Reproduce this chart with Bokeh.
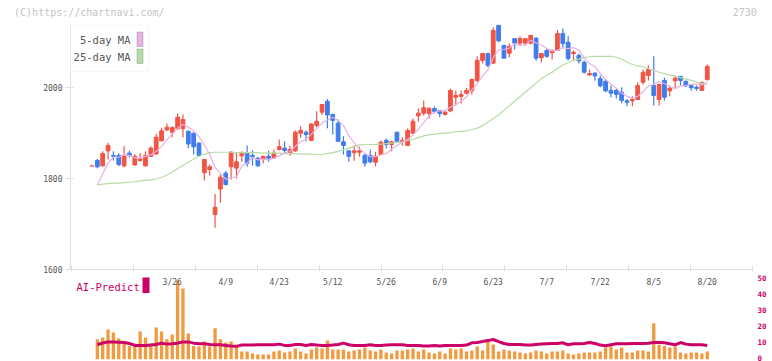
import numpy as np
from bokeh.plotting import figure
from bokeh.layouts import column
from bokeh.models import Range1d, FixedTicker, ColumnDataSource, Label, BoxAnnotation, LinearAxis
from bokeh.core.properties import value
from bokeh.embed import file_html
from bokeh.resources import INLINE

# ---------------- data ----------------
date_labels = ["3/26", "4/9", "4/23", "5/12", "5/26", "6/9", "6/23", "7/7", "7/22", "8/5", "8/20"]
date_label_index = [15, 25, 35, 45, 55, 65, 75, 85, 95, 105, 115]
header_texts = ["(C)https://chartnavi.com/", "2730"]

open_ = [1828, 1840, 1828, 1861, 1851, 1851, 1828, 1856, 1830, 1840,
         1828, 1849, 1854, 1883, 1907, 1902, 1910, 1910, 1904, 1900,
         1878, 1813, 1820, 1721, 1777, 1812, 1826, 1823, 1850, 1856,
         1851, 1845, 1843, 1849, 1845, 1864, 1867, 1856, 1861, 1900,
         1902, 1884, 1917, 1946, 1970, 1941, 1922, 1881, 1861, 1857,
         1858, 1851, 1851, 1836, 1853, 1884, 1875, 1902, 1881, 1873,
         1900, 1938, 1944, 1943, 1954, 1950, 1941, 1949, 1979, 1981,
         1988, 1993, 2016, 2060, 2075, 2054, 2137, 2093, 2076, 2108,
         2098, 2098, 2098, 2109, 2066, 2082, 2077, 2082, 2119, 2100,
         2075, 2071, 2056, 2028, 2032, 2020, 2014, 1994, 1994, 1990,
         1971, 1971, 1974, 2012, 2027, 2005, 1974, 2016, 1993, 2015,
         2025, 2014, 2005, 2001, 1994, 2018]
high = [1828, 1843, 1860, 1879, 1860, 1856, 1871, 1861, 1854, 1856,
        1860, 1871, 1898, 1912, 1921, 1915, 1943, 1941, 1906, 1901,
        1880, 1843, 1831, 1766, 1809, 1817, 1860, 1858, 1860, 1873,
        1862, 1847, 1850, 1861, 1864, 1886, 1882, 1872, 1906, 1915,
        1906, 1922, 1948, 1963, 1975, 1943, 1930, 1893, 1861, 1873,
        1870, 1855, 1864, 1859, 1884, 1888, 1883, 1903, 1891, 1910,
        1932, 1954, 1972, 1956, 1959, 1951, 1950, 1998, 1993, 1994,
        2000, 2020, 2069, 2077, 2077, 2133, 2139, 2093, 2097, 2108,
        2113, 2108, 2115, 2111, 2075, 2086, 2084, 2127, 2130, 2113,
        2082, 2075, 2060, 2040, 2034, 2027, 2018, 2005, 1998, 2001,
        1975, 1981, 2012, 2040, 2049, 2069, 2009, 2022, 2005, 2027,
        2025, 2016, 2005, 2005, 2013, 2051]
low = [1828, 1823, 1827, 1842, 1840, 1827, 1825, 1846, 1828, 1837,
       1826, 1847, 1853, 1883, 1905, 1891, 1908, 1891, 1867, 1853,
       1848, 1796, 1807, 1692, 1747, 1785, 1798, 1800, 1837, 1826,
       1829, 1826, 1833, 1837, 1843, 1862, 1856, 1850, 1859, 1890,
       1882, 1882, 1913, 1940, 1911, 1897, 1882, 1853, 1837, 1839,
       1848, 1826, 1834, 1827, 1853, 1866, 1860, 1882, 1872, 1872,
       1898, 1925, 1939, 1932, 1944, 1935, 1939, 1946, 1961, 1965,
       1985, 1985, 2012, 2053, 2045, 2053, 2100, 2065, 2067, 2084,
       2093, 2093, 2095, 2059, 2056, 2066, 2062, 2081, 2088, 2060,
       2060, 2053, 2031, 2027, 2015, 2001, 1990, 1979, 1976, 1966,
       1959, 1959, 1974, 2007, 2016, 1961, 1961, 1972, 1981, 1998,
       2004, 2001, 1993, 1993, 1993, 2015]
close = [1828, 1826, 1855, 1873, 1849, 1831, 1851, 1851, 1849, 1843,
         1851, 1867, 1891, 1905, 1913, 1912, 1935, 1930, 1876, 1870,
         1851, 1842, 1826, 1737, 1803, 1787, 1858, 1837, 1856, 1834,
         1848, 1828, 1849, 1845, 1856, 1870, 1862, 1864, 1902, 1906,
         1897, 1920, 1926, 1963, 1940, 1928, 1882, 1873, 1849, 1861,
         1861, 1834, 1837, 1849, 1880, 1875, 1881, 1882, 1884, 1906,
         1926, 1944, 1956, 1955, 1948, 1943, 1946, 1994, 1983, 1985,
         1994, 2018, 2060, 2075, 2049, 2126, 2103, 2065, 2091, 2098,
         2108, 2108, 2115, 2065, 2075, 2069, 2082, 2119, 2097, 2064,
         2078, 2059, 2034, 2031, 2026, 2004, 1993, 1988, 1985, 1972,
         1968, 1974, 2005, 2034, 2040, 1983, 2007, 1979, 1999, 2021,
         2016, 2004, 2000, 1998, 2012, 2047]
ma5 = [None, 1786, 1810, 1834, 1847, 1847, 1852, 1851, 1846, 1845,
       1849, 1852, 1860, 1871, 1885, 1898, 1911, 1919, 1913, 1905,
       1892, 1874, 1853, 1825, 1812, 1799, 1802, 1804, 1828, 1834,
       1847, 1841, 1843, 1841, 1845, 1850, 1856, 1859, 1871, 1881,
       1886, 1898, 1910, 1922, 1929, 1935, 1928, 1917, 1894, 1879,
       1865, 1856, 1848, 1848, 1852, 1855, 1864, 1873, 1880, 1886,
       1896, 1908, 1923, 1937, 1946, 1949, 1950, 1957, 1963, 1970,
       1980, 1995, 2008, 2026, 2039, 2066, 2083, 2084, 2087, 2097,
       2093, 2094, 2104, 2099, 2094, 2086, 2081, 2082, 2088, 2086,
       2088, 2083, 2066, 2053, 2046, 2031, 2018, 2008, 1999, 1988,
       1981, 1977, 1981, 1991, 2004, 2007, 2014, 2009, 2002, 1998,
       2004, 2004, 2008, 2008, 2006, 2012]
ma25 = [None, 1786, 1788, 1789, 1790, 1790, 1791, 1792, 1793, 1795,
        1796, 1797, 1799, 1803, 1808, 1814, 1822, 1829, 1836, 1843,
        1849, 1854, 1857, 1858, 1858, 1858, 1858, 1857, 1857, 1857,
        1857, 1857, 1856, 1856, 1856, 1856, 1855, 1855, 1855, 1854,
        1854, 1854, 1853, 1853, 1855, 1857, 1860, 1863, 1867, 1871,
        1874, 1875, 1875, 1875, 1876, 1877, 1878, 1879, 1881, 1884,
        1886, 1890, 1894, 1896, 1898, 1899, 1900, 1901, 1903, 1904,
        1905, 1908, 1911, 1916, 1924, 1932, 1940, 1950, 1960, 1970,
        1980, 1990, 2000, 2010, 2020, 2027, 2034, 2042, 2050, 2055,
        2060, 2063, 2066, 2068, 2069, 2069, 2069, 2069, 2067, 2063,
        2056, 2051, 2048, 2046, 2042, 2038, 2034, 2031, 2028, 2025,
        2022, 2019, 2016, 2012, 2010, 2007]
volume = [None, 12.7, 13.75, 18.75, 16.9, 13.1, 11.25, 8.5, 10.0, 17.5,
          13.75, 10.0, 20.0, 17.5, 12.7, 15.6, 49.4, 44.4, 16.25, 8.5,
          8.1, 11.25, 8.1, 19.6, 12.7, 10.6, 11.25, 8.5, 5.0, 5.0,
          3.75, 3.1, 3.1, 3.1, 5.0, 5.6, 4.4, 5.0, 6.9, 5.0,
          3.75, 6.25, 7.5, 6.9, 11.9, 6.25, 6.25, 6.25, 5.0, 5.6,
          6.25, 7.5, 5.6, 5.0, 6.25, 4.4, 3.75, 5.6, 5.6, 6.25,
          6.9, 5.0, 6.25, 4.4, 3.75, 5.0, 3.75, 6.9, 6.25, 6.9,
          5.0, 5.6, 8.1, 5.6, 11.25, 9.4, 5.0, 6.25, 5.6, 5.0,
          4.4, 3.75, 4.4, 5.6, 5.0, 3.75, 5.0, 5.0, 5.6, 3.75,
          3.1, 3.75, 4.4, 4.4, 4.4, 5.0, 7.5, 8.1, 6.25, 7.5,
          4.4, 4.4, 5.6, 5.6, 5.0, 22.7, 9.2, 8.5, 7.5, 8.1,
          4.4, 3.75, 4.4, 4.4, 3.75, 5.0]
ai_predict = [None, 8.4, 9.5, 10.2, 10.2, 10.0, 9.8, 9.2, 8.0, 8.0,
              8.0, 8.2, 8.6, 9.4, 8.8, 9.0, 9.4, 10.2, 10.2, 9.4,
              9.0, 9.0, 8.6, 8.4, 8.4, 8.0, 7.6, 7.4, 8.2, 8.2,
              8.2, 8.4, 8.4, 8.4, 8.4, 8.8, 8.0, 8.0, 8.6, 8.6,
              8.0, 8.6, 8.2, 7.9, 7.9, 8.2, 8.6, 9.4, 8.4, 8.0,
              8.0, 8.0, 8.4, 8.0, 8.0, 8.2, 8.4, 8.4, 8.4, 8.0,
              8.0, 8.0, 7.6, 7.6, 8.0, 7.6, 8.0, 8.0, 8.0, 8.0,
              8.2, 9.6, 9.8, 10.4, 11.0, 11.7, 10.4, 9.2, 8.6, 8.6,
              8.6, 8.2, 8.2, 8.6, 8.8, 9.0, 9.2, 9.2, 9.6, 8.4,
              9.0, 9.0, 9.2, 9.8, 9.2, 8.2, 7.8, 8.4, 9.0, 9.0,
              9.0, 9.2, 9.2, 9.2, 9.4, 9.8, 9.8, 9.6, 9.0, 8.4,
              9.8, 8.8, 8.4, 8.4, 8.4, 8.0]
ai_ticks = [0, 10, 20, 30, 40, 50]
price_ticks = [1600, 1800, 2000]

# ---------------- geometry (page pixels; the page origin is the canvas origin) ----------------
X0, DX = 91.5, 5.35          # page x of the first candle and candle pitch
FL, FR, W = 70, 752, 772     # plot frame left / right, canvas width
A_TOP, A_BOT = 24, 269       # price frame top / bottom
P_LO, P_HI = 1600, 2139      # price range
A_GAP = 5                    # space under the price frame
B_TOP, B_BOT = 275, 359      # lower frame
V_ZERO, V_PX = 357.7, 1.6    # lower panel: page y of 0 on the AI axis, px per unit


def px2x(px):
    return (px - X0) / DX


def py2p(py):
    return P_HI - (py - A_TOP) * (P_HI - P_LO) / (A_BOT - A_TOP)


def py2v(py):
    return (V_ZERO - py) / V_PX


MONO = "DejaVu Sans Mono"
RED, BLUE = "#f25444", "#3f7cec"
PINK, GREEN = "#e6b2e6", "#b6dca4"
CRIMSON, ORANGE = "#cc0066", "#f29a3f"
AXIS_GREY, TEXT_GREY = "#e0e0e0", "#555555"

n = len(close)
idx = list(range(n))
x_range = Range1d(px2x(FL), px2x(FR))

# 12 equally spaced division marks along the lower edge of the price frame
div_ticks = list(np.linspace(px2x(FL + 1), px2x(FR), 12))

# ---------------- price figure ----------------
pA = figure(frame_width=FR - FL, frame_height=A_BOT - A_TOP,
            x_range=x_range, y_range=Range1d(P_LO, P_HI),
            output_backend="svg", toolbar_location=None,
            min_border_left=FL, min_border_right=W - FR,
            min_border_top=A_TOP, min_border_bottom=A_GAP)
pA.grid.visible = False
pA.outline_line_color = None
pA.background_fill_color = "white"

up = [c >= o for o, c in zip(open_, close)]
src = ColumnDataSource(dict(
    x=idx, h=high, l=low,
    top=[max(o, c) for o, c in zip(open_, close)],
    bottom=[min(o, c) for o, c in zip(open_, close)],
    color=[RED if u else BLUE for u in up]))
pA.segment(x0="x", y0="l", x1="x", y1="h", source=src, line_color="color", line_width=1.2)
pA.vbar(x="x", width=0.7, top="top", bottom="bottom", source=src,
        fill_color="color", line_color="color", line_width=1)
pA.line(idx[1:], ma25[1:], line_color=GREEN, line_width=1.2)
pA.line(idx[1:], ma5[1:], line_color=PINK, line_width=1.2)

ya = pA.yaxis[0]
ya.ticker = FixedTicker(ticks=price_ticks)
ya.bounds = (P_LO, P_HI)
ya.axis_line_color = AXIS_GREY
ya.major_tick_line_color = AXIS_GREY
ya.major_tick_in = 3
ya.major_tick_out = 5
ya.minor_tick_line_color = None
ya.major_label_standoff = 3
ya.major_label_text_font = MONO
ya.major_label_text_font_size = "8px"
ya.major_label_text_color = TEXT_GREY

xa = pA.xaxis[0]
xa.ticker = FixedTicker(ticks=[], minor_ticks=div_ticks)
xa.axis_line_color = AXIS_GREY
xa.minor_tick_line_color = AXIS_GREY
xa.minor_tick_in = 4
xa.minor_tick_out = 2
xa.major_tick_line_color = None
xa.major_tick_out = 0
xa.major_label_standoff = 0
xa.major_label_text_font_size = "0px"

# header texts as labels of an invisible top axis (centred over their positions)
hdr_pos = [-0.5, 122]
overrides = {}
for pos, txt in zip(hdr_pos, header_texts):
    overrides[pos] = txt
    overrides[str(pos)] = txt
top_axis = LinearAxis(ticker=FixedTicker(ticks=hdr_pos), major_label_overrides=overrides,
                      axis_line_color=None, major_tick_line_color=None,
                      minor_tick_line_color=None, major_tick_in=0, major_tick_out=0,
                      major_label_standoff=7, major_label_text_font=MONO,
                      major_label_text_font_size="10px", major_label_text_color="#c4c4c4")
pA.add_layout(top_axis, "above")

# legend box (labels left, swatches right as in the original)
pA.add_layout(BoxAnnotation(left=px2x(70), right=px2x(148), top=py2p(24), bottom=py2p(71),
                            fill_color="white", fill_alpha=1, line_color=AXIS_GREY, line_width=1.5))
pA.add_layout(BoxAnnotation(left=px2x(136.5), right=px2x(142.5), top=py2p(31.5), bottom=py2p(46),
                            fill_color=PINK, fill_alpha=1, line_color="#666666", line_width=1))
pA.add_layout(BoxAnnotation(left=px2x(136.5), right=px2x(142.5), top=py2p(48.5), bottom=py2p(63),
                            fill_color=GREEN, fill_alpha=1, line_color="#666666", line_width=1))
for txt, yy in (("5-day MA", 39.5), ("25-day MA", 56.5)):
    pA.add_layout(Label(x=px2x(130), y=py2p(yy), text=txt, text_align="right",
                        text_baseline="middle", text_font=MONO, text_font_size="10.5px",
                        text_color=TEXT_GREY))

# ---------------- volume / AI-Predict figure ----------------
pB = figure(frame_width=FR - FL, frame_height=B_BOT - B_TOP,
            x_range=x_range, y_range=Range1d(py2v(B_BOT), py2v(B_TOP)),
            output_backend="svg", toolbar_location=None,
            x_axis_location=None, y_axis_location="right",
            min_border_left=FL, min_border_right=W - FR,
            min_border_top=B_TOP - (A_BOT + A_GAP), min_border_bottom=2)
pB.grid.visible = False
pB.outline_line_color = None
# volume has its own scale whose zero is the floor of the panel
pB.extra_y_ranges = {"vol": Range1d(0, (B_BOT - B_TOP) / V_PX)}

pB.vbar(x=idx[1:], top=volume[1:], bottom=0, width=0.62, fill_color=ORANGE, line_color=None,
        y_range_name="vol")
pB.line(idx[1:], ai_predict[1:], line_color=CRIMSON, line_width=3)

yb = pB.yaxis[0]
yb.ticker = FixedTicker(ticks=ai_ticks)
yb.axis_line_color = None
yb.major_tick_line_color = None
yb.minor_tick_line_color = None
yb.major_tick_out = 0
yb.major_label_standoff = 5
yb.major_label_text_font = MONO
yb.major_label_text_font_size = "7.5px"
yb.major_label_text_font_style = "bold"
yb.major_label_text_color = CRIMSON

pB.text(x=date_label_index, y=[py2v(282)] * len(date_labels), text=date_labels,
        text_font=value(MONO), text_font_size="8px", text_color=TEXT_GREY,
        text_align="center", text_baseline="middle")

pB.add_layout(Label(x=px2x(76), y=py2v(286), text="AI-Predict", text_align="left",
                    text_baseline="middle", text_font=MONO, text_font_size="10.5px",
                    text_color=CRIMSON))
pB.add_layout(BoxAnnotation(left=px2x(142), right=px2x(149), top=py2v(277), bottom=py2v(292.5),
                            fill_color=CRIMSON, fill_alpha=1, line_color=None))

layout = column(pA, pB)
open("out.html", "w").write(file_html(layout, INLINE))
